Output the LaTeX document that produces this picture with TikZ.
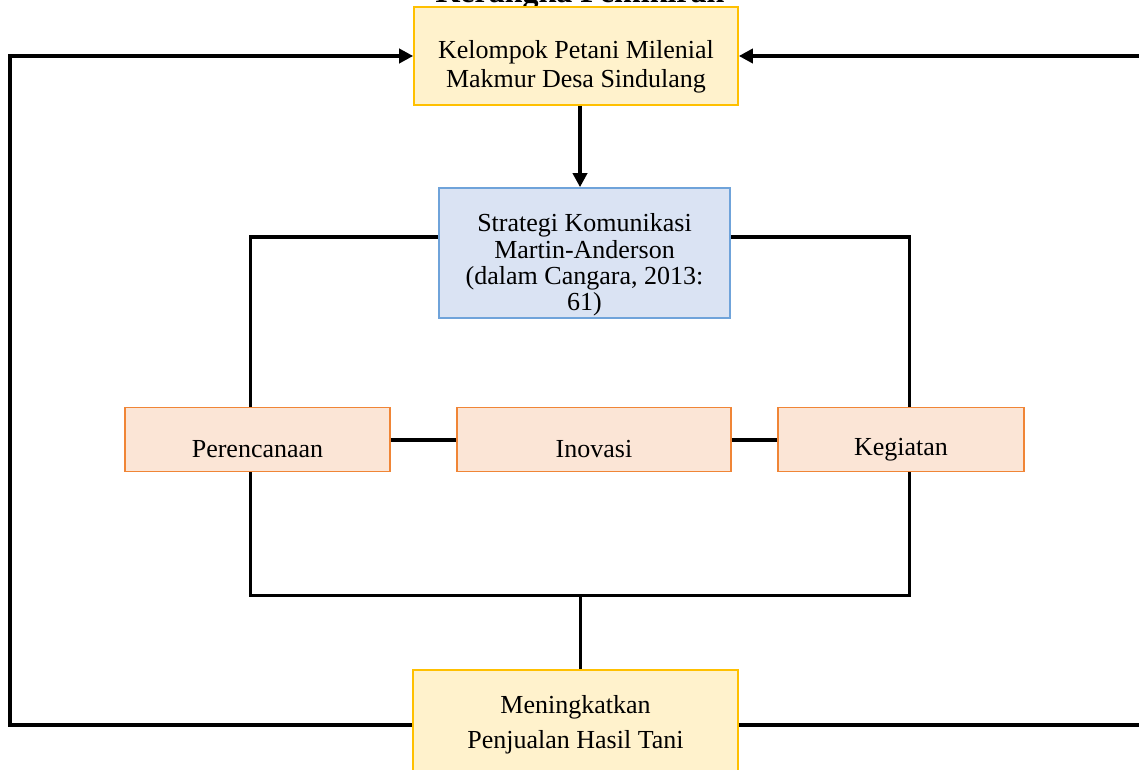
\documentclass[tikz,border=0pt]{standalone}
\usepackage{fontspec}
\setmainfont{Liberation Serif}
\usetikzlibrary{arrows.meta,positioning}
\definecolor{kuningisi}{HTML}{FFF2CC}
\definecolor{kuninggaris}{HTML}{FFC000}
\definecolor{biruisi}{HTML}{DAE3F3}
\definecolor{birugaris}{HTML}{6FA3DA}
\definecolor{oranyeisi}{HTML}{FBE5D6}
\definecolor{oranyegaris}{HTML}{F08536}
\tikzset{
	kotakkuning/.style={draw=kuninggaris, fill=kuningisi, line width=0.8pt},
	kotakbiru/.style={draw=birugaris, fill=biruisi, line width=0.8pt},
	kotakoranye/.style={draw=oranyegaris, fill=oranyeisi, line width=0.8pt, minimum height=32pt},
	garis/.style={line width=1.5pt},
	garistebal/.style={line width=2pt},
	panah/.style={line width=2pt, -{Triangle[length=7pt,width=7pt]}}
}
\begin{document}
\begin{tikzpicture}[x=0.5pt, y=-0.5pt, font=\fontsize{13}{14.5}\selectfont, line join=miter]
		\clip (0,0) rectangle (1139,770);
		\path
		(250,237) coordinate (ftl)
		(909,237) coordinate (ftr)
		(250,595) coordinate (fbl)
		(909,595) coordinate (fbr)
		(580,595) coordinate (fbm)
		(10,0) coordinate (lc)
		(1160,0) coordinate (rc);
		% kotak
		\node[font=\fontsize{16}{18}\selectfont\bfseries, anchor=base] (judul) at (580,3) {Kerangka Pemikiran};
		\node[kotakkuning, minimum width=162pt, minimum height=49pt,
			label={[align=center, yshift=-5.5pt]center:Kelompok Petani Milenial\\Makmur Desa Sindulang}] (kelompok) at (576,56) {};
		\node[kotakbiru, minimum width=145.5pt, minimum height=65pt,
			label={[align=center, yshift=-6pt, font=\fontsize{13}{13.2}\selectfont]center:Strategi Komunikasi\\Martin-Anderson\\(dalam Cangara, 2013:\\61)}] (strategi) at (584.5,253) {};
		\node[kotakoranye, minimum width=132.5pt, label={[yshift=-5pt]center:Perencanaan}] (perencanaan) at (257.5,439.5) {};
		\node[kotakoranye, minimum width=137pt, label={[yshift=-5pt]center:Inovasi}] (inovasi) at (594,439.5) {};
		\node[kotakoranye, minimum width=123pt, label={[yshift=-5pt]center:Kegiatan}] (kegiatan) at (901,439.5) {};
		\node[kotakkuning, minimum width=162.5pt, minimum height=55pt,
			label={[align=center, font=\fontsize{13}{17.5}\selectfont]center:Meningkatkan\\Penjualan Hasil Tani}] (meningkatkan) at (575.5,725) {};
		% garis
		\draw[panah] (kelompok.south -| fbm) -- (strategi.north -| fbm);
		\draw[garis] (strategi.west |- ftl)--(ftl)--(ftl |- perencanaan.north) (ftl |- perencanaan.south)--(fbl)--(fbr)--(fbr |- kegiatan.south) (fbr |- kegiatan.north)--(ftr)--(strategi.east |- ftr);
		\draw[garis] (fbm)--(fbm |- meningkatkan.north);
		\draw[garistebal] (perencanaan.east)--(inovasi.west) (inovasi.east)--(kegiatan.west);
		\draw[panah] (meningkatkan.west)--(lc |- meningkatkan.west)--(lc |- kelompok.west)--(kelompok.west);
		\draw[panah] (meningkatkan.east)--(rc |- meningkatkan.east)--(rc |- kelompok.east)--(kelompok.east);
\end{tikzpicture}
\end{document}
